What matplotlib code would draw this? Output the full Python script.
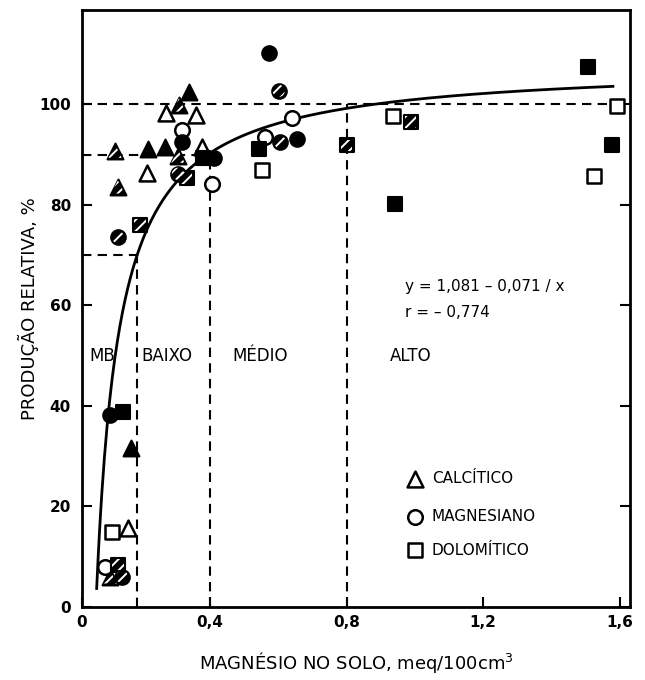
import matplotlib
matplotlib.use("Agg")
import matplotlib.pyplot as plt
import numpy as np

plt.rcParams['font.family'] = ['DejaVu Sans']
plt.rcParams['hatch.linewidth'] = 1.4

# ---- data ----
# Calcítico (triangles)
calc_open_x = [0.271, 0.359, 0.376, 0.215, 0.160]
calc_open_y = [98.3, 97.9, 91.5, 86.4, 15.7]
calc_fill_x = [0.338, 0.218, 0.268, 0.168]
calc_fill_y = [102.5, 91.1, 91.5, 31.6]
calc_hatch_x = [0.309, 0.122, 0.306, 0.130, 0.107]
calc_hatch_y = [99.9, 90.7, 89.7, 83.6, 6.0]

# Magnesiano (circles)
mag_open_x = [0.318, 0.405, 0.640, 0.561, 0.092]
mag_open_y = [95.0, 84.2, 97.3, 93.5, 8.0]
mag_fill_x = [0.318, 0.411, 0.572, 0.654, 0.107]
mag_fill_y = [92.6, 89.4, 110.2, 93.1, 38.2]
mag_hatch_x = [0.306, 0.130, 0.601, 0.605, 0.142]
mag_hatch_y = [86.2, 73.6, 102.7, 92.5, 6.0]

# Dolomítico (squares)
dol_open_x = [0.552, 0.935, 1.591, 1.524, 0.113]
dol_open_y = [87.0, 97.7, 99.7, 85.8, 14.9]
dol_fill_x = [0.379, 0.543, 0.941, 1.506, 1.577, 0.145]
dol_fill_y = [89.4, 91.1, 80.2, 107.5, 91.9, 38.8]
dol_hatch_x = [0.332, 0.195, 0.800, 0.988, 0.130]
dol_hatch_y = [85.4, 76.0, 91.9, 96.5, 8.4]

# fitted model y = 1.081 - 0.071/x  (as %)
coef_a = 1.081
coef_b = 0.071
curve_xmin, curve_xmax = 0.068, 1.58

# class limits (Mg) and corresponding relative yield
class_bounds = [0.186, 0.4, 0.8]
class_levels = [70, 90, 100]
class_names = ["MB", "BAIXO", "MÉDIO", "ALTO"]
class_label_x = [0.048, 0.200, 0.464, 0.927]
class_label_y = 50

xtick_vals = [0.4, 0.8, 1.2, 1.6]
xtick_labels = ["0,4", "0,8", "1,2", "1,6"]
ytick_vals = [0, 20, 40, 60, 80, 100]

legend_names = ["CALCÍTICO", "MAGNESIANO", "DOLOMÍTICO"]

# ---- figure ----
fig = plt.figure(figsize=(6.45, 6.8), dpi=100)
ax = fig.add_axes([82/645, 73/680, (630-82)/645, (607-10)/680])
X0 = 0.025
ax.set_xlim(X0, 1.63)
ax.set_ylim(0, 118.8)

for s in ax.spines.values():
    s.set_linewidth(2.0)

dash_kw = dict(color='black', lw=1.5, dashes=(4.5, 3))
# horizontal reference lines
ax.plot([X0, class_bounds[0]], [class_levels[0]] * 2, **dash_kw)
ax.plot([X0, class_bounds[1]], [class_levels[1]] * 2, **dash_kw)
ax.plot([X0, 1.59], [class_levels[2]] * 2, **dash_kw)
# vertical reference lines
for xb, lv in zip(class_bounds, class_levels):
    ax.plot([xb, xb], [0, lv], **dash_kw)

# curve
xc = np.linspace(curve_xmin, curve_xmax, 400)
yc = (coef_a - coef_b / xc) * 100
ax.plot(xc, yc, color='black', lw=2.0, zorder=3)

MS = 110
def pts(x, y, marker, kind, s=MS):
    if kind == 'open':
        ax.scatter(x, y, s=s, marker=marker, facecolors='white', edgecolors='black',
                   linewidths=1.8, zorder=4)
    elif kind == 'fill':
        ax.scatter(x, y, s=s, marker=marker, facecolors='black', edgecolors='black',
                   linewidths=1.5, zorder=4)
    else:
        ax.scatter(x, y, s=s, marker=marker, facecolors='black', edgecolors='black',
                   linewidths=1.5, zorder=4)
        ax.scatter(x, y, s=s * 0.7, marker=marker, facecolors='none', edgecolors='white',
                   linewidths=0, hatch='///', zorder=5)

pts(calc_open_x, calc_open_y, '^', 'open', 130)
pts(calc_fill_x, calc_fill_y, '^', 'fill', 130)
pts(calc_hatch_x, calc_hatch_y, '^', 'hatch', 130)
pts(mag_open_x, mag_open_y, 'o', 'open')
pts(mag_fill_x, mag_fill_y, 'o', 'fill')
pts(mag_hatch_x, mag_hatch_y, 'o', 'hatch')
pts(dol_open_x, dol_open_y, 's', 'open', 95)
pts(dol_fill_x, dol_fill_y, 's', 'fill', 95)
pts(dol_hatch_x, dol_hatch_y, 's', 'hatch', 95)

# class labels
for name, lx in zip(class_names, class_label_x):
    ax.text(lx, class_label_y, name, fontsize=12, va='center', ha='left', zorder=2)

# equation
ax.text(0.97, 63.8, "y = 1,081 – 0,071 / x", fontsize=11, ha='left', va='center')
ax.text(0.97, 58.7, "r = – 0,774", fontsize=11, ha='left', va='center')

# legend
leg_x = 1.0
leg_y = [25.5, 18.0, 11.3]
leg_m = ['^', 'o', 's']
leg_s = [130, 110, 95]
for yy, m, ss, nm in zip(leg_y, leg_m, leg_s, legend_names):
    ax.scatter([leg_x], [yy], s=ss, marker=m, facecolors='white', edgecolors='black',
               linewidths=1.8, zorder=4)
    ax.text(leg_x + 0.05, yy, nm, fontsize=11, ha='left', va='center')

# ticks
ax.set_xticks([X0] + xtick_vals)
ax.set_xticklabels(["0"] + xtick_labels)
ax.set_yticks(ytick_vals)
ax.set_yticklabels([str(v) for v in ytick_vals])
ax.tick_params(axis='both', direction='in', length=7, width=1.5, labelsize=11,
               right=True, top=False)
ax.tick_params(axis='x', pad=6)
ax.tick_params(axis='y', pad=8)
for lab in ax.get_xticklabels() + ax.get_yticklabels():
    lab.set_fontweight('bold')

ax.set_xlabel("MAGNÉSIO NO SOLO, meq/100cm$^3$", fontsize=13, labelpad=14)
ax.set_ylabel("PRODUÇÃO RELATIVA, %", fontsize=13, labelpad=0)

fig.savefig("out.png", dpi=100)
